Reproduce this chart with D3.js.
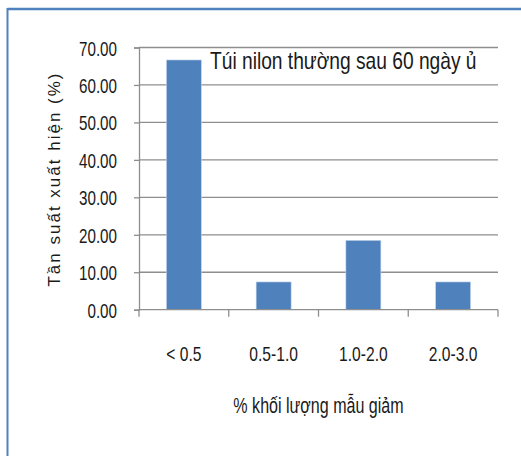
<!DOCTYPE html>
<html>
<head>
<meta charset="utf-8">
<script src="https://cdn.jsdelivr.net/npm/d3@7"></script>
<style>
  html, body { margin: 0; padding: 0; background: #fff; }
  svg { display: block; }
  text { font-family: "Liberation Sans", Arial, sans-serif; fill: #1a1a1a; }
</style>
</head>
<body>
<svg id="chart" width="521" height="456"></svg>
<script>
// Frequency of sample mass-loss classes
const categories = ["< 0.5", "0.5-1.0", "1.0-2.0", "2.0-3.0"];
const frequencies = [66.67, 7.41, 18.52, 7.41];
const yTicks = [0, 10, 20, 30, 40, 50, 60, 70];
const chartTitle = "Túi nilon thường sau 60 ngày ủ";
const xTitle = "% khối lượng mẫu giảm";
const yTitle = "Tần suất xuất hiện (%)";

const svg = d3.select("#chart");
const W = 521, H = 456;
const plot = { left: 139, right: 498, top: 47.5, bottom: 309.7 };
const gridColor = "#8e8e8e";

// condensed text: horizontal squeeze of a regular face
function narrowText(sel, x, y, size, sx, anchor, str) {
  return sel.append("text")
    .attr("transform", `translate(${x},${y}) scale(${sx},1)`)
    .attr("text-anchor", anchor)
    .attr("font-size", size)
    .text(str);
}

// frame: blue rule along the top and left edges
svg.append("line").attr("x1", 7.5).attr("x2", W).attr("y1", 9).attr("y2", 9)
  .attr("stroke", "#4f81bd").attr("stroke-width", 2.5);
svg.append("line").attr("x1", 7.5).attr("x2", 7.5).attr("y1", 8).attr("y2", H)
  .attr("stroke", "#4f81bd").attr("stroke-width", 2);

const x = d3.scaleBand().domain(categories).range([plot.left, plot.right]).paddingInner(0.61).paddingOuter(0.305);
const xb = d3.scaleBand().domain(categories).range([plot.left, plot.right]);
const y = d3.scaleLinear().domain([0, 70]).range([plot.bottom, plot.top]);

// horizontal gridlines
svg.append("g").selectAll("line").data(yTicks.filter(d => d > 0)).join("line")
  .attr("x1", plot.left).attr("x2", plot.right)
  .attr("y1", d => y(d)).attr("y2", d => y(d))
  .attr("stroke", gridColor).attr("stroke-width", 1.3);

// bars
svg.append("g").selectAll("rect").data(frequencies).join("rect")
  .attr("x", (d, i) => x(categories[i]))
  .attr("width", x.bandwidth())
  .attr("y", d => y(d))
  .attr("height", d => y(0) - y(d))
  .attr("fill", "#4f81bd")
  .attr("stroke", "#c6d7ec").attr("stroke-width", 0.6);

// y axis
const yAxis = d3.axisLeft(y).tickValues(yTicks).tickSize(5).tickFormat(d3.format(".2f"));
const gy = svg.append("g").attr("transform", `translate(${plot.left},0)`).call(yAxis);
gy.select(".domain").attr("stroke", gridColor).attr("stroke-width", 1.3);
gy.selectAll(".tick line").attr("stroke", gridColor).attr("stroke-width", 1.3);
gy.selectAll(".tick text")
  .attr("x", null).attr("dy", null)
  .attr("transform", "translate(-22,7.5) scale(0.76,1)")
  .attr("text-anchor", "end")
  .attr("font-size", 20).attr("font-family", null).attr("fill", null);

// x axis: ticks on category boundaries
const gx = svg.append("g").attr("transform", `translate(0,${plot.bottom})`);
gx.append("line").attr("x1", plot.left).attr("x2", plot.right)
  .attr("stroke", gridColor).attr("stroke-width", 1.3);
const bounds = categories.map(c => xb(c)).concat([plot.right]);
gx.selectAll("line.tk").data(bounds).join("line").attr("class", "tk")
  .attr("x1", d => d).attr("x2", d => d).attr("y1", 0).attr("y2", 7)
  .attr("stroke", gridColor).attr("stroke-width", 1.3);
categories.forEach(c => narrowText(gx, xb(c) + xb.bandwidth() / 2, 51.5, 20, 0.78, "middle", c));

// in-plot title
narrowText(svg, 210, 69, 24, 0.8, "start", chartTitle);

// axis titles
narrowText(svg, (plot.left + plot.right) / 2, 413, 22, 0.73, "middle", xTitle);

svg.append("text")
  .attr("transform", `translate(60,179) rotate(-90)`)
  .attr("text-anchor", "middle")
  .attr("font-size", 17).attr("letter-spacing", 2)
  .text(yTitle);
</script>
</body>
</html>
